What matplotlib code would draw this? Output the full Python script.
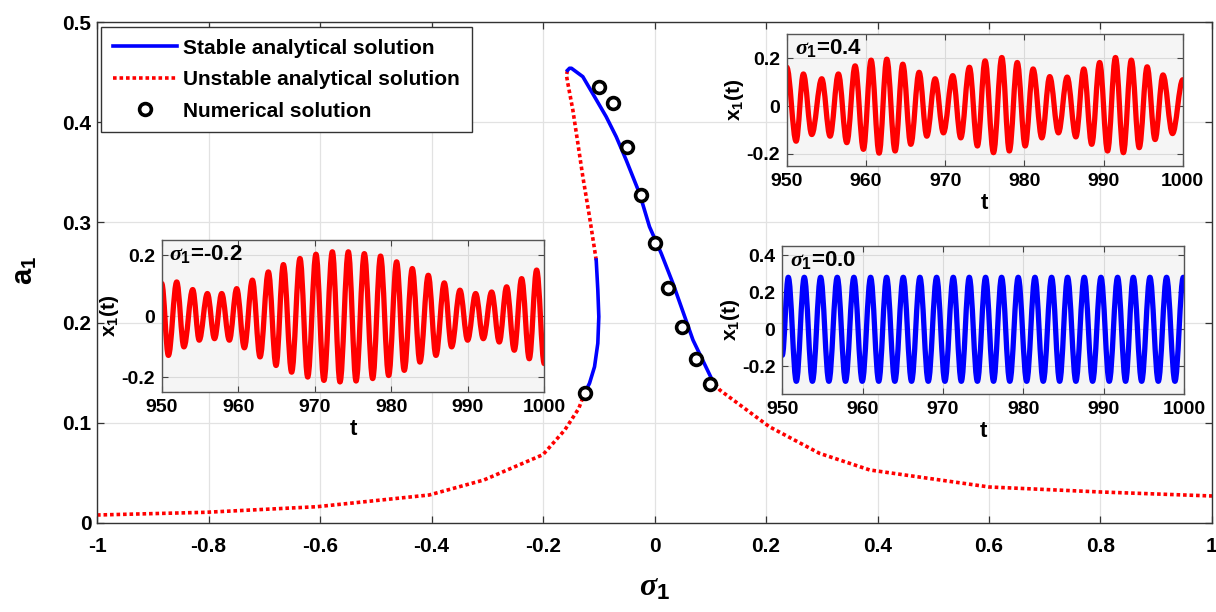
import matplotlib.pyplot as plt
from matplotlib.lines import Line2D
from matplotlib.path import Path
from matplotlib.patches import PathPatch

plt.rcParams['font.family'] = 'Liberation Sans'
plt.rcParams['font.weight'] = 'bold'
plt.rcParams['axes.unicode_minus'] = False
plt.rcParams['mathtext.fontset'] = 'custom'
plt.rcParams['mathtext.rm'] = 'Liberation Sans'
plt.rcParams['mathtext.it'] = 'Liberation Serif:italic'
plt.rcParams['mathtext.bf'] = 'Liberation Sans:bold'

# frequency response curve (sigma_1, a_1)
red_left_x = [-1.0, -0.805, -0.605, -0.404, -0.306, -0.2, -0.161, -0.136, -0.1256]
red_left_y = [0.0077, 0.0104, 0.016, 0.0277, 0.0427, 0.068, 0.0926, 0.114, 0.1293]

blue_low_x = [-0.1256, -0.1166, -0.1076, -0.1017, -0.0999, -0.1017, -0.1046]
blue_low_y = [0.1293, 0.1393, 0.1558, 0.1792, 0.2058, 0.2325, 0.2624]

red_mid_x = [-0.1046, -0.1166, -0.1286, -0.1375, -0.1465, -0.1555, -0.158, -0.156]
red_mid_y = [0.2624, 0.3057, 0.3457, 0.379, 0.4123, 0.439, 0.447, 0.452]

blue_up_x = [-0.156, -0.1525, -0.149, -0.1286, -0.1076, -0.0867, -0.0687, -0.0508,
             -0.0269, -0.009, 0.012, 0.033, 0.069, 0.102]
blue_up_y = [0.452, 0.454, 0.454, 0.4456, 0.4256, 0.4056, 0.3856, 0.3623,
             0.329, 0.2957, 0.2691, 0.2392, 0.1825, 0.1443]

red_right_x = [0.102, 0.117, 0.206, 0.296, 0.386, 0.6, 0.8, 1.0]
red_right_y = [0.1443, 0.1326, 0.0959, 0.0693, 0.0527, 0.0357, 0.0307, 0.0267]

num_x = [-0.125, -0.1, -0.075, -0.05, -0.025, 0.0, 0.025, 0.05, 0.075, 0.1]
num_y = [0.1293, 0.4356, 0.4196, 0.375, 0.3274, 0.2797, 0.2342, 0.1958, 0.1632, 0.1382]

# time histories (extrema)
t_m02 = [950.0, 950.87, 951.96, 952.9, 954.05, 954.9, 955.97, 956.9, 957.84, 958.84,
         959.8, 960.8, 961.85, 962.85, 963.94, 964.94, 965.9, 966.98, 968.07, 969.08,
         970.16, 971.2, 972.3, 973.3, 974.39, 975.4, 976.48, 977.57, 978.6, 979.66,
         980.7, 981.7, 982.75, 983.75, 984.84, 985.84, 986.93, 987.89, 988.98, 989.98,
         991.03, 992.03, 993.12, 994.12, 995.08, 996.08, 997.04, 998.04, 999.0, 1000.0]
x_m02 = [0.107, -0.129, 0.112, -0.101, 0.087, -0.079, 0.074, -0.074, 0.074, -0.079,
         0.09, -0.104, 0.118, -0.134, 0.145, -0.162, 0.169, -0.184, 0.189, -0.2,
         0.203, -0.211, 0.211, -0.216, 0.211, -0.213, 0.205, -0.205, 0.197, -0.195,
         0.178, -0.178, 0.156, -0.151, 0.134, -0.129, 0.109, -0.101, 0.085, -0.079,
         0.074, -0.074, 0.079, -0.085, 0.096, -0.112, 0.123, -0.14, 0.151, -0.156]

t_p04 = [950.0, 951.18, 952.1, 953.16, 954.42, 955.47, 956.52, 957.58, 958.63, 959.68,
         960.65, 961.66, 962.63, 963.68, 964.65, 965.66, 966.71, 967.68, 968.73, 969.78,
         970.96, 971.97, 973.06, 974.07, 975.04, 976.1, 977.15, 978.1, 979.1, 980.1,
         981.1, 982.2, 983.2, 984.3, 985.4, 986.5, 987.5, 988.5, 989.5, 990.5,
         991.5, 992.5, 993.5, 994.5, 995.5, 996.5, 997.5, 998.7, 1000.0]
x_p04 = [0.162, -0.147, 0.134, -0.119, 0.114, -0.126, 0.134, -0.153, 0.168, -0.181,
         0.192, -0.197, 0.196, -0.188, 0.175, -0.16, 0.141, -0.126, 0.114, -0.112,
         0.127, -0.133, 0.162, -0.167, 0.189, -0.195, 0.203, -0.188, 0.182, -0.167,
         0.155, -0.133, 0.123, -0.112, 0.121, -0.129, 0.155, -0.16, 0.182, -0.188,
         0.203, -0.195, 0.192, -0.174, 0.164, -0.14, 0.13, -0.115, 0.11]

t_00 = [950.0, 950.75, 951.75, 952.74, 953.75, 954.77, 955.8, 956.84, 957.87, 958.91,
        959.95, 960.99, 962.0, 962.98, 964.0, 965.05, 966.08, 967.12, 968.16, 969.2,
        970.23, 971.27, 972.27, 973.26, 974.27, 975.29, 976.28, 977.28, 978.3, 979.35,
        980.4, 981.43, 982.46, 983.5, 984.5, 985.49, 986.52, 987.56, 988.6, 989.64,
        990.67, 991.71, 992.7, 993.66, 994.7, 995.73, 996.77, 997.8, 998.84, 999.88, 1000.0]
x_00 = [-0.14, 0.28, -0.28, 0.28, -0.28, 0.28, -0.28, 0.28, -0.28, 0.28,
        -0.28, 0.28, -0.28, 0.28, -0.28, 0.28, -0.28, 0.28, -0.28, 0.28,
        -0.28, 0.28, -0.28, 0.28, -0.28, 0.28, -0.28, 0.28, -0.28, 0.28,
        -0.28, 0.28, -0.28, 0.28, -0.28, 0.28, -0.28, 0.28, -0.28, 0.28,
        -0.28, 0.28, -0.28, 0.28, -0.28, 0.28, -0.28, 0.28, -0.28, 0.28, 0.275]

x_ticks = [-1, -0.8, -0.6, -0.4, -0.2, 0, 0.2, 0.4, 0.6, 0.8, 1]
x_ticklabels = ['-1', '-0.8', '-0.6', '-0.4', '-0.2', '0', '0.2', '0.4', '0.6', '0.8', '1']
y_ticks = [0, 0.1, 0.2, 0.3, 0.4, 0.5]
y_ticklabels = ['0', '0.1', '0.2', '0.3', '0.4', '0.5']
t_ticks = [950, 960, 970, 980, 990, 1000]

dotted = (0, (1, 0.8))

fig = plt.figure(figsize=(12.16, 6.12), dpi=100)
ax = fig.add_axes([0.0798, 0.1459, 0.9169, 0.8178])

ax.plot(red_left_x, red_left_y, color='r', lw=2.6, ls=dotted)
ax.plot(red_mid_x, red_mid_y, color='r', lw=2.6, ls=dotted)
ax.plot(red_right_x, red_right_y, color='r', lw=2.6, ls=dotted)
ax.plot(blue_low_x, blue_low_y, color='b', lw=2.6)
ax.plot(blue_up_x, blue_up_y, color='b', lw=2.6)
ax.plot(num_x, num_y, ls='none', marker='o', ms=8.5, mfc='white', mec='k', mew=2.6)

ax.set_xlim(-1, 1)
ax.set_ylim(0, 0.5)
ax.set_xticks(x_ticks)
ax.set_xticklabels(x_ticklabels)
ax.set_yticks(y_ticks)
ax.set_yticklabels(y_ticklabels)
ax.grid(True, color='#e2e2e2', lw=0.9)
ax.set_axisbelow(True)
ax.tick_params(direction='in', top=True, right=True, labelsize=15, length=5,
               width=0.9, color='#333333', pad=10)
ax.tick_params(axis='y', pad=4)
for s in ax.spines.values():
    s.set_color('#333333')
    s.set_linewidth(1.0)

ax.set_xlabel(r'$\sigma_1$', fontsize=23)
ax.xaxis.set_label_coords(0.5, -0.1)
ax.set_ylabel(r'$\mathbf{a_1}$', fontsize=21)
ax.yaxis.set_label_coords(-0.052, 0.505)

handles = [
    Line2D([], [], color='b', lw=2.6),
    Line2D([], [], color='r', lw=2.6, ls=dotted),
    Line2D([], [], ls='none', marker='o', ms=8.5, mfc='white', mec='k', mew=2.6),
]
labels = ['Stable analytical solution', 'Unstable analytical solution', 'Numerical solution']
leg = ax.legend(handles, labels, loc='upper left', bbox_to_anchor=(0.0036, 0.99),
                borderaxespad=0, fontsize=15, handlelength=3.1, handletextpad=0.3,
                labelspacing=0.6, borderpad=0.55, fancybox=False, framealpha=1,
                edgecolor='#333333')
leg.get_frame().set_linewidth(1.0)


def wave(t, x):
    # smooth cubic segments between successive extrema (horizontal tangents)
    verts = [(t[0], x[0])]
    codes = [Path.MOVETO]
    for i in range(1, len(t)):
        k = 0.363 * (t[i] - t[i - 1])
        verts += [(t[i - 1] + k, x[i - 1]), (t[i] - k, x[i]), (t[i], x[i])]
        codes += [Path.CURVE4] * 3
    return Path(verts, codes)


def make_inset(rect, t, x, color, ylim, yticks, yticklabels, note):
    axi = fig.add_axes(rect)
    axi.add_patch(PathPatch(wave(t, x), facecolor='none', edgecolor=color, lw=3.8,
                            joinstyle='round', capstyle='round'))
    axi.set_facecolor('#f5f5f5')
    axi.set_xlim(950, 1000)
    axi.set_ylim(*ylim)
    axi.set_xticks(t_ticks)
    axi.set_xticklabels([str(v) for v in t_ticks])
    axi.set_yticks(yticks)
    axi.set_yticklabels(yticklabels)
    axi.grid(True, color='#dadada', lw=0.8)
    axi.set_axisbelow(True)
    axi.tick_params(direction='in', top=True, right=True, labelsize=14, length=4,
                    width=0.8, color='#444444', pad=5)
    for s in axi.spines.values():
        s.set_color('#555555')
        s.set_linewidth(1.0)
    axi.set_xlabel('t', fontsize=16, fontweight='bold', labelpad=2)
    axi.set_ylabel(r'$\mathbf{x_1(t)}$', fontsize=15, labelpad=0)
    axi.text(0.02, 0.98, note, transform=axi.transAxes, fontsize=16,
             fontweight='bold', ha='left', va='top')
    return axi


make_inset([0.133, 0.359, 0.3146, 0.249], t_m02, x_m02, 'r', (-0.25, 0.25),
           [-0.2, 0, 0.2], ['-0.2', '0', '0.2'], r'$\sigma_\mathbf{1}$=-0.2')
make_inset([0.647, 0.729, 0.3257, 0.215], t_p04, x_p04, 'r', (-0.25, 0.3),
           [-0.2, 0, 0.2], ['-0.2', '0', '0.2'], r'$\sigma_\mathbf{1}$=0.4')
make_inset([0.6433, 0.3557, 0.3306, 0.2428], t_00, x_00, 'b', (-0.35, 0.45),
           [-0.2, 0, 0.2, 0.4], ['-0.2', '0', '0.2', '0.4'], r'$\sigma_\mathbf{1}$=0.0')

plt.savefig('out.png', dpi=100)
plt.close()
